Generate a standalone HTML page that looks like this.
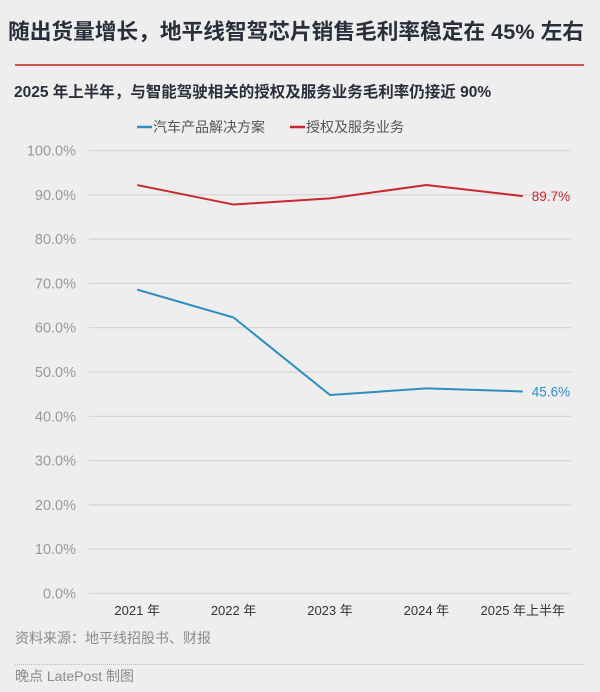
<!DOCTYPE html>
<html><head><meta charset="utf-8">
<style>
html,body{margin:0;padding:0;background:#eeeeee;}
body{width:600px;height:692px;overflow:hidden;position:relative;font-family:"Liberation Sans","Noto Sans CJK SC",sans-serif;}
.t{position:absolute;white-space:nowrap;}
</style></head>
<body>
<div class="t" style="left:8px;top:15px;font-size:21.7px;font-weight:bold;color:#2a2e3a;">随出货量增长，地平线智驾芯片销售毛利率稳定在 45% 左右</div>
<div style="position:absolute;left:15px;top:64px;width:569px;height:2px;background:#d0554d;"></div>
<div class="t" style="left:14px;top:80px;font-size:15.5px;font-weight:bold;color:#2a2e3a;">2025 年上半年，与智能驾驶相关的授权及服务业务毛利率仍接近 90%</div>
<svg id="chart" width="600" height="692" style="position:absolute;left:0;top:0;" font-family="Liberation Sans, Noto Sans CJK SC, sans-serif"></svg>
<div class="t" style="left:15px;top:628px;font-size:14px;color:#8a8a8a;">资料来源：地平线招股书、财报</div>
<div style="position:absolute;left:15px;top:664px;width:569px;border-top:1px dotted #bbb;"></div>
<div class="t" style="left:15px;top:666px;font-size:14px;color:#8a8a8a;">晚点 LatePost 制图</div>
<script>
const categories=["2021 年","2022 年","2023 年","2024 年","2025 年上半年"];
const autoValues=[68.6,62.3,44.8,46.3,45.6];
const licenseValues=[92.2,87.8,89.2,92.2,89.7];
const yTicks=[0,10,20,30,40,50,60,70,80,90,100];
const seriesNames=["汽车产品解决方案","授权及服务业务"];
const NS="http://www.w3.org/2000/svg";
const svg=document.getElementById('chart');
const X0=89,X1=571,Y0=593.5,Y1=150.5;
const band=(X1-X0)/categories.length;
function xs(i){return X0+band*(i+0.5);}
function ys(v){return Y0-(v/100)*(Y0-Y1);}
function mk(tag,attrs){const e=document.createElementNS(NS,tag);for(const k in attrs)e.setAttribute(k,attrs[k]);svg.appendChild(e);return e;}
yTicks.forEach(v=>{
  const l=mk('line',{x1:X0,x2:X1,y1:ys(v),y2:ys(v),stroke:'#d4d4d4','stroke-width':1.2});
  
  
  const t=mk('text',{x:76,y:ys(v)+5,'text-anchor':'end','font-size':14.5,fill:'#999'});
  t.textContent=v.toFixed(1)+'%';
  
  
});
categories.forEach((c,i)=>{
  const t=mk('text',{x:xs(i),y:615,'text-anchor':'middle','font-size':13,fill:'#333'});
  t.textContent=c;
  
  
});
function series(vals,color,name){
  const p=mk('polyline',{points:vals.map((v,i)=>xs(i)+','+ys(v)).join(' '),fill:'none',stroke:color,'stroke-width':2});
  
  
  const n=vals.length-1;
  const t=mk('text',{x:xs(n)+9,y:ys(vals[n])+5,'font-size':13.5,fill:color});
  t.textContent=vals[n].toFixed(1)+'%';
  
  
}
series(licenseValues,'#c8282d','license-service-line');
series(autoValues,'#2c8fc0','auto-solution-line');
[[137,'#2c8fc0',seriesNames[0]],[290,'#c8282d',seriesNames[1]]].forEach(([x,c,n],k)=>{
  const l=mk('line',{x1:x,x2:x+15,y1:127,y2:127,stroke:c,'stroke-width':2.5});
  
  
  const t=mk('text',{x:x+16,y:132,'font-size':14,fill:'#555'});
  t.textContent=n;
  
  
});
</script>
</body></html>
